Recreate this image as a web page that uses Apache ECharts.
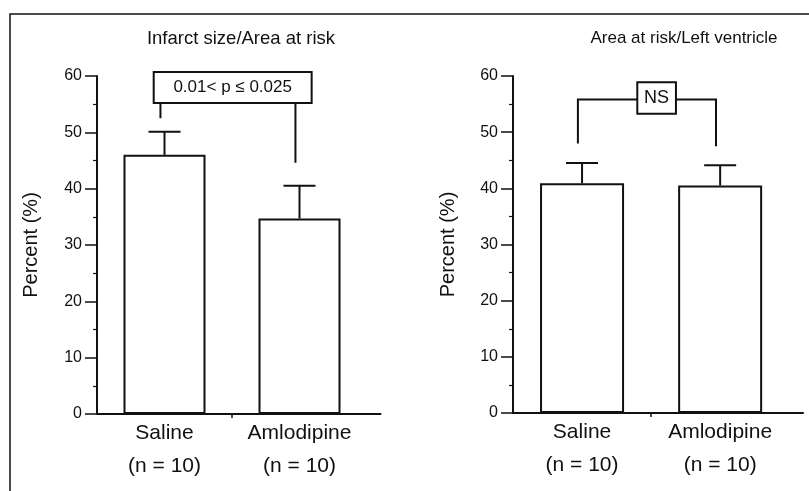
<!DOCTYPE html>
<html>
<head>
<meta charset="utf-8">
<script src="https://cdn.jsdelivr.net/npm/echarts@6/dist/echarts.min.js"></script>
<style>html,body{margin:0;padding:0;background:#fff}#c{width:809px;height:491px}</style>
</head>
<body>
<div id="c"></div>
<script>
// ---- data ----
const categories = ['Saline\n(n = 10)', 'Amlodipine\n(n = 10)'];
const categoryPos = [0, 1];
const panelTitles = ['Infarct size/Area at risk', 'Area at risk/Left ventricle'];
const yAxisName = 'Percent (%)';
const infarctMean = [46, 34.7];
const infarctUpper = [50.1, 40.5];
const riskMean = [40.9, 40.5];
const riskUpper = [44.5, 44.1];
// significance annotations (data units)
const infarctLabel = '0.01< p \u2264 0.025';
const infarctLegX = [-0.03, 0.97];
const infarctLegBottom = [52.5, 44.6];
const infarctBoxX = [-0.08, 1.09];
const infarctBoxY = [55.2, 60.7];
const riskLabel = 'NS';
const riskLegX = [-0.03, 0.97];
const riskLegBottom = [48.0, 47.5];
const riskBracketY = 55.8;
const riskBoxX = [0.40, 0.68];
const riskBoxY = [53.3, 58.9];

const INK = '#111';
const FONT = 'Liberation Sans, Arial, sans-serif';

function xAxisCfg(gi) {
  return {
    type: 'value', gridIndex: gi, min: -0.5, max: 1.6, interval: 0.5,
    splitLine: { show: false },
    axisLine: { show: true, onZero: false, lineStyle: { color: INK, width: 2 } },
    axisTick: { show: true, customValues: [0.5], length: 4, lineStyle: { color: INK, width: 1.5 } },
    axisLabel: {
      customValues: categoryPos,
      formatter: v => categories[Math.round(v)],
      fontSize: 21, lineHeight: 33, margin: 3, color: INK, fontFamily: FONT
    }
  };
}
function yAxisCfg(gi, gap) {
  return {
    type: 'value', gridIndex: gi, min: 0, max: 60, interval: 10,
    name: yAxisName, nameLocation: 'middle', nameGap: gap,
    nameTextStyle: { fontSize: 20, color: INK, fontFamily: FONT },
    splitLine: { show: false },
    axisLine: { show: true, onZero: false, lineStyle: { color: INK, width: 2 } },
    axisTick: { show: true, length: 12, lineStyle: { color: INK, width: 1.5 } },
    minorTick: { show: true, splitNumber: 2, length: 4, lineStyle: { color: INK, width: 1.2 } },
    axisLabel: { fontSize: 16, margin: 15, color: INK, fontFamily: FONT }
  };
}
function barSeries(gi, vals, width) {
  return {
    type: 'bar', xAxisIndex: gi, yAxisIndex: gi, barWidth: width,
    data: categoryPos.map((x, i) => [x, vals[i]]),
    itemStyle: { color: '#fff', borderColor: INK, borderWidth: 2 },
    z: 2, silent: true
  };
}
function errSeries(gi, mean, upper, hw) {
  return {
    type: 'custom', xAxisIndex: gi, yAxisIndex: gi, z: 3, silent: true,
    data: categoryPos.map((x, i) => [x, mean[i], upper[i]]),
    renderItem: function (params, api) {
      const x = api.value(0);
      const p0 = api.coord([x, api.value(1)]);
      const p1 = api.coord([x, api.value(2)]);
      const st = { stroke: INK, lineWidth: 2 };
      return { type: 'group', children: [
        { type: 'line', shape: { x1: p0[0], y1: p0[1], x2: p1[0], y2: p1[1] }, style: st },
        { type: 'line', shape: { x1: p1[0] - hw, y1: p1[1], x2: p1[0] + hw, y2: p1[1] }, style: st }
      ] };
    }
  };
}

const infarctBracket = {
  type: 'custom', xAxisIndex: 0, yAxisIndex: 0, z: 4, silent: true, clip: false,
  data: [[0.5, 58]],
  renderItem: function (params, api) {
    const st = { stroke: INK, lineWidth: 2, fill: null };
    const b0 = api.coord([infarctBoxX[0], infarctBoxY[0]]);
    const b1 = api.coord([infarctBoxX[1], infarctBoxY[1]]);
    const ch = [
      { type: 'rect', shape: { x: b0[0], y: b1[1], width: b1[0] - b0[0], height: b0[1] - b1[1] }, style: st }
    ];
    for (let i = 0; i < 2; i++) {
      const a = api.coord([infarctLegX[i], infarctBoxY[0]]);
      const b = api.coord([infarctLegX[i], infarctLegBottom[i]]);
      ch.push({ type: 'line', shape: { x1: a[0], y1: a[1], x2: b[0], y2: b[1] }, style: st });
    }
    const c = api.coord([(infarctBoxX[0] + infarctBoxX[1]) / 2, (infarctBoxY[0] + infarctBoxY[1]) / 2]);
    ch.push({ type: 'text', style: { text: infarctLabel, x: c[0], y: c[1], align: 'center', verticalAlign: 'middle',
      fontSize: 17, fontFamily: FONT, fill: INK } });
    return { type: 'group', children: ch };
  }
};
const riskBracket = {
  type: 'custom', xAxisIndex: 1, yAxisIndex: 1, z: 4, silent: true, clip: false,
  data: [[0.5, 56]],
  renderItem: function (params, api) {
    const st = { stroke: INK, lineWidth: 2, fill: null };
    const b0 = api.coord([riskBoxX[0], riskBoxY[0]]);
    const b1 = api.coord([riskBoxX[1], riskBoxY[1]]);
    const l0 = api.coord([riskLegX[0], riskLegBottom[0]]);
    const l1 = api.coord([riskLegX[0], riskBracketY]);
    const l2 = api.coord([riskBoxX[0], riskBracketY]);
    const r0 = api.coord([riskBoxX[1], riskBracketY]);
    const r1 = api.coord([riskLegX[1], riskBracketY]);
    const r2 = api.coord([riskLegX[1], riskLegBottom[1]]);
    const c = api.coord([(riskBoxX[0] + riskBoxX[1]) / 2, (riskBoxY[0] + riskBoxY[1]) / 2]);
    return { type: 'group', children: [
      { type: 'polyline', shape: { points: [l0, l1, l2] }, style: st },
      { type: 'polyline', shape: { points: [r0, r1, r2] }, style: st },
      { type: 'rect', shape: { x: b0[0], y: b1[1], width: b1[0] - b0[0], height: b0[1] - b1[1] }, style: st },
      { type: 'text', style: { text: riskLabel, x: c[0], y: c[1], align: 'center', verticalAlign: 'middle',
        fontSize: 18, fontFamily: FONT, fill: INK } }
    ] };
  }
};

const chart = echarts.init(document.getElementById('c'), null, { renderer: 'canvas' });
chart.setOption({
  animation: false,
  backgroundColor: '#fff',
  textStyle: { fontFamily: FONT, color: INK },
  title: [
    { text: panelTitles[0], left: 236, top: 24, textAlign: 'center',
      textStyle: { fontSize: 18.5, fontWeight: 'normal', color: INK, fontFamily: FONT } },
    { text: panelTitles[1], left: 679, top: 25, textAlign: 'center',
      textStyle: { fontSize: 17, fontWeight: 'normal', color: INK, fontFamily: FONT } }
  ],
  graphic: [
    { type: 'polyline', shape: { points: [[10, 491], [10, 14], [809, 14]] },
      style: { stroke: INK, lineWidth: 1.5, fill: null }, silent: true }
  ],
  grid: [
    { left: 97, top: 76, width: 283.5, height: 338 },
    { left: 513, top: 76, width: 290, height: 337 }
  ],
  xAxis: [xAxisCfg(0), xAxisCfg(1)],
  yAxis: [yAxisCfg(0, 56), yAxisCfg(1, 55)],
  series: [
    barSeries(0, infarctMean, 82),
    errSeries(0, infarctMean, infarctUpper, 16),
    infarctBracket,
    barSeries(1, riskMean, 84),
    errSeries(1, riskMean, riskUpper, 16),
    riskBracket
  ]
});
</script>
</body>
</html>
